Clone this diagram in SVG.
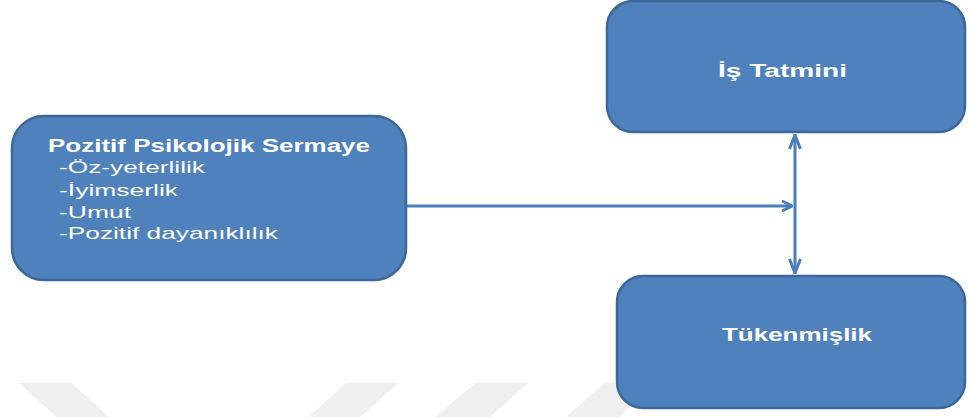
<svg xmlns="http://www.w3.org/2000/svg" width="969" height="417" viewBox="0 0 969 417">
  <defs>
    <style>
      .box { fill: #4f81bd; stroke: #3c679a; stroke-width: 2.5; }
      .title { font-family: "Liberation Sans", Arial, sans-serif; font-weight: bold; font-size: 18px; fill: #ffffff; }
      .item { font-family: "Liberation Sans", Arial, sans-serif; font-size: 17px; fill: #ffffff; }
      .link { fill: none; stroke: #4a7ebb; stroke-width: 3; }
      .mark { fill: #efefef; }
    </style>
    <marker id="vee" viewBox="0 0 12 12" refX="11" refY="6" markerWidth="12" markerHeight="12" markerUnits="userSpaceOnUse" orient="auto-start-reverse">
      <path d="M1,1 L11,6 L1,11" fill="none" stroke="#4a7ebb" stroke-width="3" stroke-linejoin="miter"/>
    </marker>
    <marker id="veeV" viewBox="0 0 16 12" refX="15" refY="6" markerWidth="16" markerHeight="14" markerUnits="userSpaceOnUse" orient="auto-start-reverse">
      <path d="M1,0.5 L15,6 L1,11.5" fill="none" stroke="#4a7ebb" stroke-width="3"/>
    </marker>
  </defs>

  <rect width="969" height="417" fill="#ffffff"/>

  <!-- faint background watermark bands -->
  <g id="watermark">
    <polygon class="mark" points="19,383 71,383 109,417 57,417"/>
    <polygon class="mark" points="346,383 398,383 360,417 309,417"/>
    <polygon class="mark" points="475,383 528,383 490,417 436,417"/>
    <polygon class="mark" points="605,383 657,383 619,417 566,417"/>
  </g>

  <!-- connectors -->
  <g id="connectors">
    <line class="link" x1="407" y1="206" x2="792" y2="206" marker-end="url(#vee)"/>
    <line class="link" x1="795" y1="135" x2="795" y2="273" marker-start="url(#veeV)" marker-end="url(#veeV)"/>
  </g>

  <g id="node-psikolojik-sermaye">
    <rect class="box" x="12" y="116" width="394" height="164" rx="32" ry="32"/>
    <text class="title" x="48" y="152" textLength="322" lengthAdjust="spacingAndGlyphs">Pozitif Psikolojik Sermaye</text>
    <text class="item" x="59" y="173" textLength="146" lengthAdjust="spacingAndGlyphs">-Öz-yeterlilik</text>
    <text class="item" x="59" y="196" textLength="119" lengthAdjust="spacingAndGlyphs">-İyimserlik</text>
    <text class="item" x="59" y="218" textLength="72" lengthAdjust="spacingAndGlyphs">-Umut</text>
    <text class="item" x="59" y="239" textLength="219" lengthAdjust="spacingAndGlyphs">-Pozitif dayanıklılık</text>
  </g>

  <g id="node-is-tatmini">
    <rect class="box" x="607" y="1" width="358" height="131" rx="26" ry="26"/>
    <text class="title" x="718" y="77" textLength="129" lengthAdjust="spacingAndGlyphs">İş Tatmini</text>
  </g>

  <g id="node-tukenmislik">
    <rect class="box" x="617" y="276" width="348" height="132" rx="26" ry="26"/>
    <text class="title" x="722" y="341" textLength="150" lengthAdjust="spacingAndGlyphs">Tükenmişlik</text>
  </g>
</svg>
